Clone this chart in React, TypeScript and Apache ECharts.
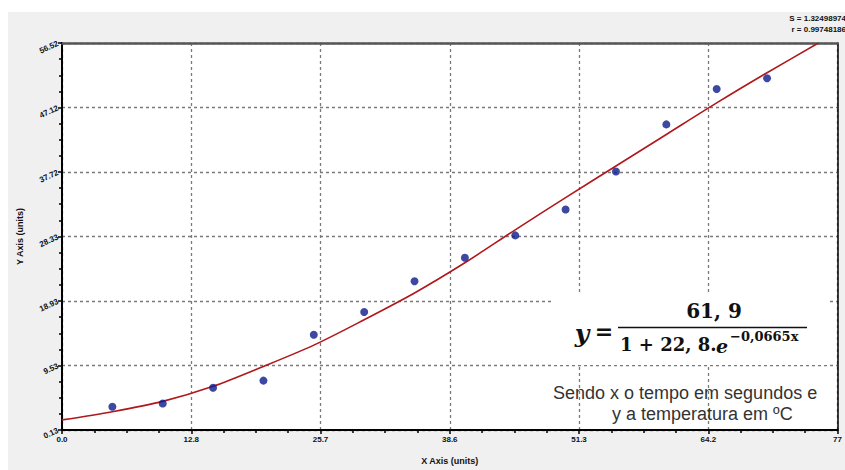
import React, { useEffect, useRef } from "react";
import * as echarts from "echarts";

// measured points (x = time in s, y = temperature)
const xValues = [5, 10, 15, 20, 25, 30, 35, 40, 45, 50, 55, 60, 65, 70];
const yValues = [3.53, 4.0, 6.29, 7.33, 14.02, 17.32, 21.8, 25.24, 28.49, 32.26, 37.8, 44.67, 49.83, 51.4];

// fitted curve
const fitX = [0, 5, 10, 15, 20, 25, 30, 35, 40, 45, 50, 55, 60, 65, 70, 75.1];
const fitY = [1.6, 2.8, 4.3, 6.5, 9.4, 12.5, 16.2, 20.1, 24.5, 29.3, 34.0, 38.6, 43.2, 47.8, 52.2, 56.52];

const xTickLabels = ["0.0", "12.8", "25.7", "38.6", "51.3", "64.2", "77"];
const yTickLabels = ["0.13", "9.53", "18.93", "28.33", "37.72", "47.12", "56.52"];

const statLines = ["S = 1.32498974", "r = 0.99748186"];

const xMin = 0;
const xInterval = 12.8333;
const xMax = +(xInterval * 6).toFixed(4);
const yMin = 0.13;
const yInterval = 9.4;
const yMax = +(yMin + yInterval * 6).toFixed(2);

const tickFont = { fontSize: 8, fontWeight: "bold" as const, color: "#111", fontFamily: "Liberation Sans" };

export default function App() {
  const ref = useRef<HTMLDivElement>(null);
  useEffect(() => {
    document.body.style.margin = "0";
    if (!ref.current) return;
    const chart = echarts.init(ref.current, undefined, { renderer: "svg" });
    const eqFont = "DejaVu Serif";
    chart.setOption({
      animation: false,
      backgroundColor: "#f0f0f0",
      grid: {
        left: 62,
        top: 43,
        right: 2,
        bottom: 33,
        show: true,
        backgroundColor: "#ffffff",
        borderWidth: 0,
      },
      xAxis: [
        {
          type: "value",
          min: xMin,
          max: xMax,
          interval: xInterval,
          name: "X Axis (units)",
          nameLocation: "middle",
          nameGap: 26,
          nameTextStyle: { fontSize: 9, fontWeight: "bold", color: "#111", fontFamily: "Liberation Sans" },
          axisLine: { show: true, onZero: false, lineStyle: { color: "#000", width: 2 } },
          axisTick: { show: true, length: 4, lineStyle: { color: "#000", width: 1.5 } },
          minorTick: { show: true, splitNumber: 4, length: 3, lineStyle: { color: "#000", width: 1.5 } },
          axisLabel: {
            ...tickFont,
            margin: 5,
            formatter: (v: number) => xTickLabels[Math.round((v - xMin) / xInterval)] ?? "",
          },
          splitLine: { show: true, lineStyle: { color: "#7a7a7a", type: [3, 3], width: 1.3 } },
        },
        {
          type: "value",
          position: "top",
          min: xMin,
          max: xMax,
          axisLine: { show: true, onZero: false, lineStyle: { color: "#555", width: 2.5 } },
          axisTick: { show: false },
          axisLabel: { show: false },
          splitLine: { show: false },
        },
      ],
      yAxis: [
        {
          type: "value",
          min: yMin,
          max: yMax,
          interval: yInterval,
          name: "Y Axis (units)",
          nameLocation: "middle",
          nameGap: 38,
          nameTextStyle: { fontSize: 9, fontWeight: "bold", color: "#111", fontFamily: "Liberation Sans" },
          axisLine: { show: true, onZero: false, lineStyle: { color: "#000", width: 2 } },
          axisTick: { show: true, length: 4, lineStyle: { color: "#000", width: 1.5 } },
          minorTick: { show: true, splitNumber: 4, length: 3, lineStyle: { color: "#000", width: 1.5 } },
          axisLabel: {
            ...tickFont,
            margin: 4,
            rotate: 25,
            formatter: (v: number) => yTickLabels[Math.round((v - yMin) / yInterval)] ?? "",
          },
          splitLine: { show: true, lineStyle: { color: "#7a7a7a", type: [3, 3], width: 1.3 } },
        },
        {
          type: "value",
          position: "right",
          min: yMin,
          max: yMax,
          axisLine: { show: true, onZero: false, lineStyle: { color: "#000", width: 1.5 } },
          axisTick: { show: false },
          axisLabel: { show: false },
          splitLine: { show: false },
        },
      ],
      series: [
        {
          type: "line",
          data: fitX.map((x, i) => [x, fitY[i]]),
          smooth: 0.3,
          showSymbol: false,
          symbol: "none",
          lineStyle: { color: "#b0181c", width: 1.6 },
          z: 3,
        },
        {
          type: "scatter",
          data: xValues.map((x, i) => [x, yValues[i]]),
          symbol: "circle",
          symbolSize: 8,
          itemStyle: { color: "#0c1a8c" },
          z: 4,
        },
      ],
      graphic: [
        { type: "rect", shape: { x: 0, y: 0, width: 845, height: 12 }, style: { fill: "#ffffff" }, z: 0 },
        { type: "rect", shape: { x: 0, y: 0, width: 8, height: 470 }, style: { fill: "#ffffff" }, z: 0 },
        {
          type: "text",
          x: 846,
          y: 18,
          style: { text: statLines[0], align: "right", verticalAlign: "middle", fontSize: 8, fontWeight: "bold", fill: "#111", fontFamily: "Liberation Sans" },
          z: 10,
        },
        {
          type: "text",
          x: 846,
          y: 29,
          style: { text: statLines[1], align: "right", verticalAlign: "middle", fontSize: 8, fontWeight: "bold", fill: "#111", fontFamily: "Liberation Sans" },
          z: 10,
        },
        { type: "rect", shape: { x: 553, y: 293, width: 274, height: 72 }, style: { fill: "#ffffff" }, z: 50 },
        {
          type: "text",
          x: 582,
          y: 333,
          style: { text: "y", align: "center", verticalAlign: "middle", fontSize: 25, fontWeight: "bold", fontStyle: "italic", fill: "#111", fontFamily: eqFont },
          z: 60,
        },
        {
          type: "text",
          x: 604,
          y: 331,
          style: { text: "=", align: "center", verticalAlign: "middle", fontSize: 22, fontWeight: "bold", fill: "#111", fontFamily: eqFont },
          z: 60,
        },
        {
          type: "text",
          x: 714,
          y: 311,
          style: { text: "61, 9", align: "center", verticalAlign: "middle", fontSize: 20, fontWeight: "bold", fill: "#111", fontFamily: eqFont },
          z: 60,
        },
        {
          type: "line",
          shape: { x1: 618, y1: 327.5, x2: 807, y2: 327.5 },
          style: { stroke: "#111", lineWidth: 1.5 },
          z: 60,
        },
        {
          type: "text",
          x: 620,
          y: 344,
          style: { text: "1 + 22, 8.", align: "left", verticalAlign: "middle", fontSize: 18, fontWeight: "bold", fill: "#111", fontFamily: eqFont },
          z: 60,
        },
        {
          type: "text",
          x: 716,
          y: 346,
          style: { text: "e", align: "left", verticalAlign: "middle", fontSize: 19, fontWeight: "bold", fontStyle: "italic", fill: "#111", fontFamily: eqFont },
          z: 60,
        },
        {
          type: "text",
          x: 730,
          y: 336,
          style: { text: "−0,0665x", align: "left", verticalAlign: "middle", fontSize: 13, fontWeight: "bold", fill: "#111", fontFamily: eqFont },
          z: 60,
        },
        {
          type: "text",
          x: 553,
          y: 393,
          style: { text: "Sendo x o tempo em segundos e", align: "left", verticalAlign: "middle", fontSize: 18, fill: "#333", fontFamily: "Liberation Sans" },
          z: 60,
        },
        {
          type: "text",
          x: 612,
          y: 414,
          style: { text: "y a temperatura em ºC", align: "left", verticalAlign: "middle", fontSize: 18, fill: "#333", fontFamily: "Liberation Sans" },
          z: 60,
        },
      ],
    });
    return () => chart.dispose();
  }, []);
  return <div ref={ref} style={{ width: 845, height: 470 }} />;
}
